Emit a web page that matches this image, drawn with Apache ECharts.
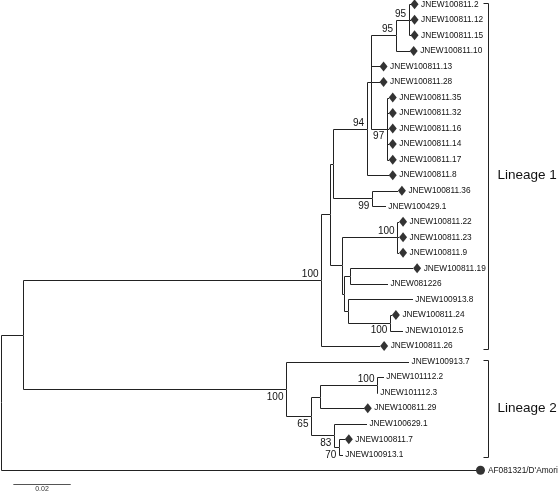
<!DOCTYPE html>
<html><head><meta charset="utf-8">
<script src="https://cdn.jsdelivr.net/npm/echarts@6/dist/echarts.min.js"></script>
<style>html,body{margin:0;padding:0;background:#fff}#c{width:560px;height:492px}</style>
</head><body><div id="c"></div>
<script>
// ---------- data ----------
const leafNames = ['JNEW100811.2','JNEW100811.12','JNEW100811.15','JNEW100811.10','JNEW100811.13','JNEW100811.28',
  'JNEW100811.35','JNEW100811.32','JNEW100811.16','JNEW100811.14','JNEW100811.17','JNEW100811.8','JNEW100811.36',
  'JNEW100429.1','JNEW100811.22','JNEW100811.23','JNEW100811.9','JNEW100811.19','JNEW081226','JNEW100913.8',
  'JNEW100811.24','JNEW101012.5','JNEW100811.26','JNEW100913.7','JNEW101112.2','JNEW101112.3','JNEW100811.29',
  'JNEW100629.1','JNEW100811.7','JNEW100913.1',"AF081321/D'Amori"];
const leafParents = ['U1','U1','U1','U2','J','J','V','V','V','V','V','K','W','W','X','X','X','E','E','F','G','G','L',
  'M','Q','Q','O','P','R','R','root'];
const leafLengths = [0.0007,0.0007,0.0007,0.0049,0.0031,0.0031,0.0007,0.0007,0.0007,0.0007,0.0007,0.0077,0.0091,
  0.0049,0.0007,0.0007,0.0007,0.0220,0.0132,0.0226,0.0007,0.0045,0.0206,0.0429,0.0024,0.0003,0.0153,0.0115,
  0.0021,0.0014,0.1655];
const leafMarkers = ['diamond','diamond','diamond','diamond','diamond','diamond','diamond','diamond','diamond',
  'diamond','diamond','diamond','diamond','none','diamond','diamond','diamond','diamond','none','none','diamond',
  'none','diamond','none','none','none','diamond','none','diamond','none','circle'];
const nodeNames   = ['root','I','L','C','B','K','J','U2','U1','V','W','D','X','H','E','F','G','M','N','O','Q','P','R'];
const nodeParents = [null,'root','I','L','C','B','K','J','U2','J','B','C','D','D','H','H','F','I','M','N','O','N','P'];
const nodeLengths = [0,0.0077,0.1038,0.0031,0.0010,0.0118,0.0014,0.0087,0.0045,0.0056,0.0136,0.0042,0.0192,
  0.0007,0.0021,0.0014,0.0146,0.0916,0.0087,0.0031,0.0199,0.0080,0.0017];
const nodeSupport = [null,null,100,null,null,94,null,95,95,97,99,null,100,null,null,null,100,100,65,null,100,83,70];
const lineageNames = ['Lineage 1','Lineage 2'];
const lineageFirstLeaf = [0,23];
const lineageLastLeaf = [22,29];
const scaleBarLength = 0.02;
const scaleBarLabel = '0.02';

// ---------- layout of tree from data ----------
const supportSide = {L:'above',K:'above',U2:'above',U1:'above',V:'below',W:'below',X:'above',G:'below',
  M:'below',N:'below',Q:'above',P:'below',R:'below'};
const X = {}, Y = {}, kids = {};
nodeNames.forEach((n,i)=>{ kids[n]=[]; });
nodeNames.forEach((n,i)=>{ if(nodeParents[i]) kids[nodeParents[i]].push({type:'node',name:n}); });
leafNames.forEach((n,i)=>{ kids[leafParents[i]].push({type:'leaf',idx:i}); });
function nx(n){ if(X[n]!==undefined) return X[n]; const i=nodeNames.indexOf(n);
  X[n] = nodeParents[i] ? nx(nodeParents[i]) + nodeLengths[i] : 0; return X[n]; }
function ny(n){ if(Y[n]!==undefined) return Y[n];
  const ys = kids[n].map(k=> k.type==='leaf' ? k.idx : ny(k.name));
  Y[n] = (Math.min(...ys)+Math.max(...ys))/2; return Y[n]; }
nodeNames.forEach(n=>{nx(n);ny(n);});
const branches = [];
nodeNames.forEach((n,i)=>{ if(nodeParents[i]){ const p=nodeParents[i]; branches.push([X[p],Y[p],X[n],Y[n]]);} });
const leafX = leafNames.map((n,i)=> X[leafParents[i]] + leafLengths[i]);
leafNames.forEach((n,i)=>{ const p=leafParents[i]; branches.push([X[p],Y[p],leafX[i],i]); });
const supportData = [];
nodeNames.forEach((n,i)=>{ if(nodeSupport[i]!=null) supportData.push([X[n],Y[n],nodeSupport[i],supportSide[n]==='above'?-1:1]); });

const snap = v => Math.round(v)+0.5;
const LINE = '#222';
const FONT = 'Liberation Sans, Arial, sans-serif';

const chart = echarts.init(document.getElementById('c'));
chart.setOption({
  animation:false,
  grid:{left:1,right:13.7,top:4.3,bottom:21.7},
  xAxis:{type:'value',min:0,max:0.19,show:false},
  yAxis:{type:'value',min:0,max:30,inverse:true,show:false},
  series:[
    {type:'custom',clip:false,data:branches,
     renderItem:(params,api)=>{
       const a=api.coord([api.value(0),api.value(1)]), b=api.coord([api.value(2),api.value(3)]);
       return {type:'polyline',shape:{points:[[snap(a[0]),snap(a[1])],[snap(a[0]),snap(b[1])],[Math.round(b[0]),snap(b[1])]]},
         style:{stroke:LINE,lineWidth:1,fill:null}};
     }},
    {type:'scatter',data:leafNames.map((n,i)=>leafMarkers[i]==='diamond'?[leafX[i],i]:null).filter(v=>v),
     symbol:'diamond',symbolSize:[8,10],symbolOffset:[4,0],itemStyle:{color:'#000'},silent:true},
    {type:'scatter',data:leafNames.map((n,i)=>leafMarkers[i]==='circle'?[leafX[i],i]:null).filter(v=>v),
     symbol:'circle',symbolSize:9,symbolOffset:[4.5,0],itemStyle:{color:'#000'},silent:true},
    {type:'custom',clip:false,data:leafNames.map((n,i)=>[leafX[i],i,leafMarkers[i]==='none'?0:(leafMarkers[i]==='circle'?1:2)]),
     renderItem:(params,api)=>{
       const p=api.coord([api.value(0),api.value(1)]); const m=api.value(2);
       const off = m===0?2.5:(m===1?12:10.5);
       return {type:'text',x:p[0]+off,y:p[1],style:{text:leafNames[params.dataIndex],fill:'#111',
         font:'8.3px '+FONT,align:'left',verticalAlign:'middle'}};
     }},
    {type:'custom',clip:false,data:supportData,
     renderItem:(params,api)=>{
       const p=api.coord([api.value(0),api.value(1)]); const s=api.value(3);
       return {type:'text',x:p[0]-2.5,y:p[1]+(s<0?-5.7:8),style:{text:String(api.value(2)),fill:'#111',
         font:'10px '+FONT,align:'right',verticalAlign:'middle'}};
     }},
    {type:'custom',clip:false,data:lineageNames.map((n,i)=>[lineageFirstLeaf[i],lineageLastLeaf[i]]),
     renderItem:(params,api)=>{
       const y1=api.coord([0,api.value(0)])[1]-1.5, y2=api.coord([0,api.value(1)])[1]+2.5; const x=488.5;
       return {type:'group',children:[
         {type:'polyline',shape:{points:[[x-5,snap(y1)],[x,snap(y1)],[x,snap(y2)],[x-5,snap(y2)]]},style:{stroke:LINE,lineWidth:1,fill:null}},
         {type:'text',x:x+9,y:(y1+y2)/2,style:{text:lineageNames[params.dataIndex],fill:'#111',font:'13.5px '+FONT,align:'left',verticalAlign:'middle'}}
       ]};
     }},
    {type:'custom',clip:false,data:[[0.0043,30.87,scaleBarLength]],
     renderItem:(params,api)=>{
       const a=api.coord([api.value(0),api.value(1)]), b=api.coord([api.value(0)+api.value(2),api.value(1)]);
       return {type:'group',children:[
         {type:'line',shape:{x1:a[0],y1:snap(a[1]),x2:b[0],y2:snap(a[1])},style:{stroke:'#555',lineWidth:1}},
         {type:'text',x:(a[0]+b[0])/2,y:a[1]+2,style:{text:scaleBarLabel,fill:'#333',font:'7px '+FONT,align:'center',verticalAlign:'top'}}
       ]};
     }}
  ]
});
</script></body></html>
